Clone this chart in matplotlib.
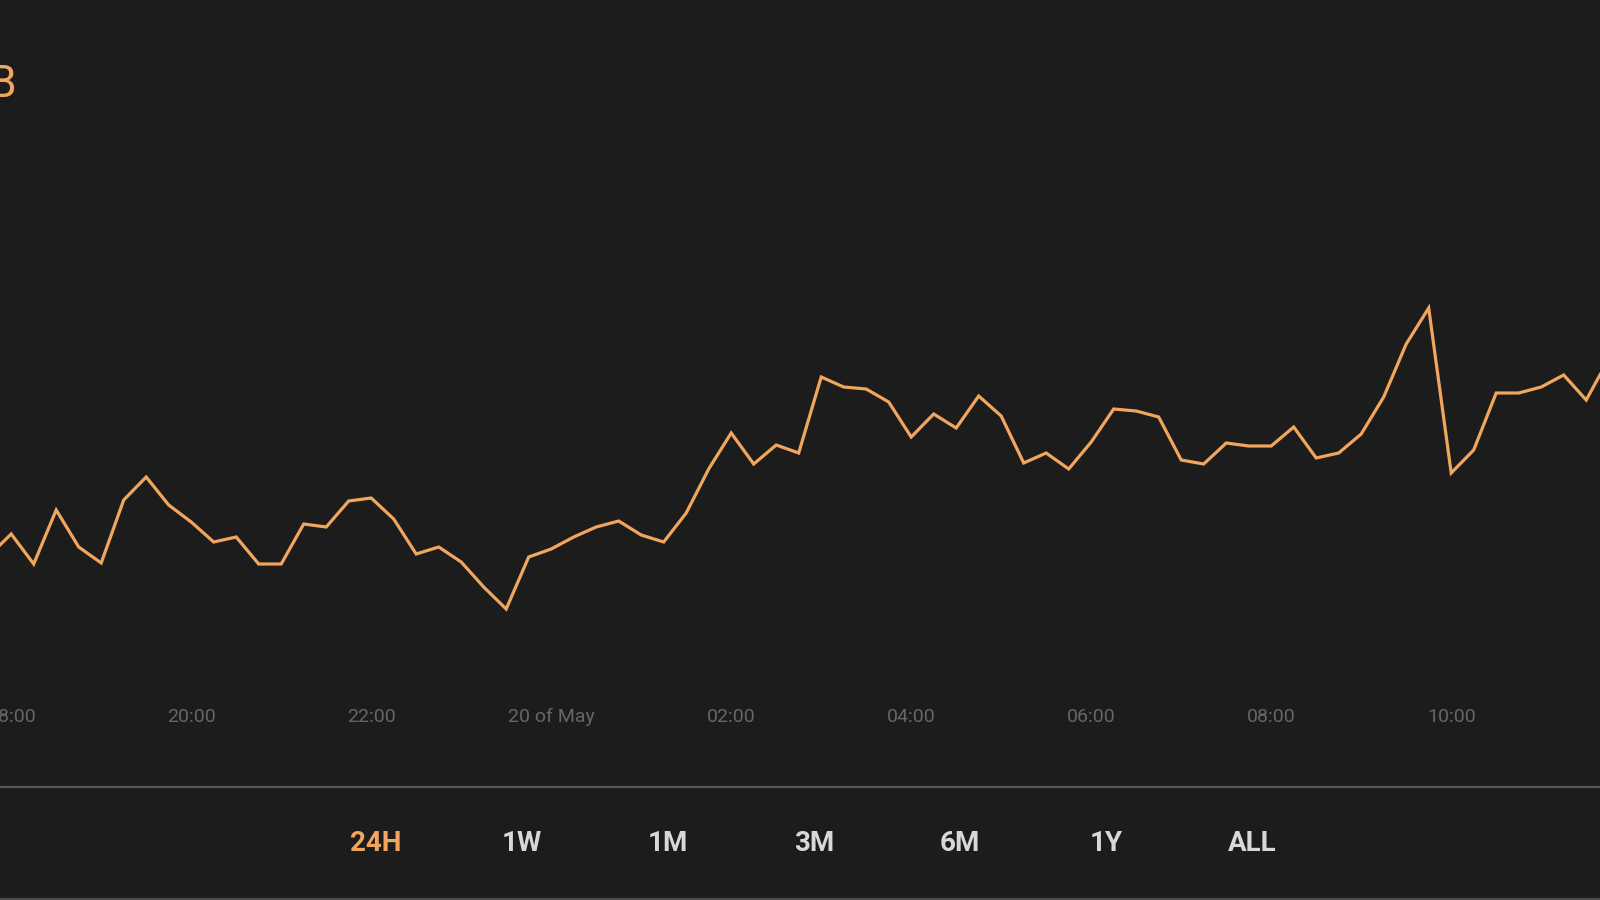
import matplotlib
matplotlib.use("Agg")
import matplotlib.pyplot as plt
from matplotlib.lines import Line2D
import numpy as np

# ---- data (15-minute samples, hours relative to 18:00 on 19 May) ----
hours = np.arange(-1, 72) * 0.25
values = [
    14.4, 16.6, 13.6, 19.0, 15.3, 13.7, 20.0, 22.3, 19.5, 17.8,
    15.8, 16.3, 13.6, 13.6, 17.6, 17.3, 19.9, 20.2, 18.1, 14.6,
    15.3, 13.8, 11.3, 9.1, 14.3, 15.1, 16.3, 17.3, 17.9, 16.5,
    15.8, 18.7, 23.1, 26.7, 23.6, 25.5, 24.7, 32.3, 31.3, 31.1,
    29.8, 26.3, 28.6, 27.2, 30.4, 28.4, 23.7, 24.7, 23.1, 25.8,
    29.1, 28.9, 28.3, 24.0, 23.6, 25.7, 25.4, 25.4, 27.3, 24.2,
    24.7, 26.6, 30.3, 35.6, 39.2, 22.7, 25.0, 30.7, 30.7, 31.3,
    32.5, 30.0, 34.1,
]
tick_hours = [0, 2, 4, 6, 8, 10, 12, 14, 16]
tick_labels = ["18:00", "20:00", "22:00", "20 of May", "02:00",
               "04:00", "06:00", "08:00", "10:00"]
range_buttons = ["24H", "1W", "1M", "3M", "6M", "1Y", "ALL"]
active_button = "24H"

# ---- style ----
BG = "#1c1c1c"
ORANGE = "#f0a65c"
TICK_GREY = "#666666"
BTN_GREY = "#d8d8d8"
W, H = 1600, 900

fig = plt.figure(figsize=(16, 9), dpi=100, facecolor=BG)

ax_bottom_px = 690
ax = fig.add_axes([0, (H - ax_bottom_px) / H, 1, ax_bottom_px / H])
ax.set_facecolor(BG)
ax.plot(hours, values, color=ORANGE, linewidth=2.3, solid_joinstyle="miter",
        solid_capstyle="butt")
ax.set_xlim(-11.2 / 90, (W - 11.2) / 90)
ax.set_ylim(1.0, 70.0)
for s in ax.spines.values():
    s.set_visible(False)
ax.set_yticks([])
ax.set_xticks(tick_hours)
ax.set_xticklabels(tick_labels, fontfamily="Roboto", fontweight="normal",
                   fontsize=14, color=TICK_GREY)
ax.tick_params(axis="x", length=0, pad=(721.7 - ax_bottom_px) * 0.72)
for lbl in ax.get_xticklabels():
    lbl.set_verticalalignment("baseline")

# clipped headline value (only its last letter is visible)
fig.text(15.5 / W, 1 - 96.7 / H, "B", ha="right", va="baseline",
         fontfamily="Roboto", fontweight="normal", fontsize=32, color=ORANGE)

# separator lines
fig.add_artist(Line2D([0, 1], [1 - 787 / H] * 2, transform=fig.transFigure,
                      color="#595959", linewidth=1.6))
fig.add_artist(Line2D([0, 1], [1 - 899 / H] * 2, transform=fig.transFigure,
                      color="#4a4a4a", linewidth=1.6))

# range selector
x0, step = 376.0, 146.0
for i, lab in enumerate(range_buttons):
    fig.text((x0 + i * step) / W, 1 - 851 / H, lab, ha="center", va="baseline",
             fontfamily="Roboto", fontweight="bold", fontsize=20,
             color=ORANGE if lab == active_button else BTN_GREY)

fig.savefig("out.png", dpi=100, facecolor=BG)
